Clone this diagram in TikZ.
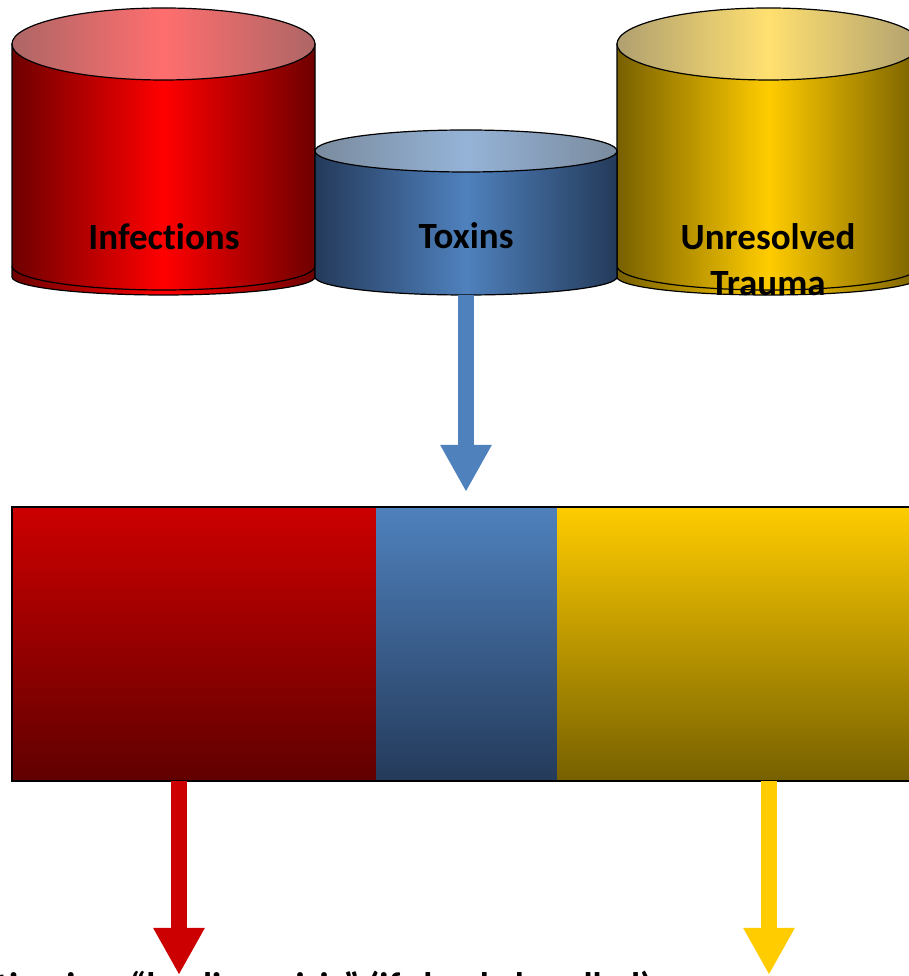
\documentclass[tikz,border=0pt]{standalone}
\usepackage{fontspec}
\setmainfont{Carlito}[Ligatures={NoCommon,NoRequired,NoContextual}]
\usetikzlibrary{arrows.meta}
\definecolor{redC}{HTML}{FF0000}
\definecolor{redE}{HTML}{6E0000}
\definecolor{redTC}{HTML}{FF6E6E}
\definecolor{redTE}{HTML}{AE6666}
\definecolor{bluC}{HTML}{4F81BD}
\definecolor{bluE}{HTML}{243A5A}
\definecolor{bluTC}{HTML}{95B3D7}
\definecolor{bluTE}{HTML}{7A8B9E}
\definecolor{yelC}{HTML}{FFCC00}
\definecolor{yelE}{HTML}{786000}
\definecolor{yelTC}{HTML}{FFE070}
\definecolor{yelTE}{HTML}{B0A070}
\definecolor{redA}{HTML}{CC0000}
\definecolor{redB}{HTML}{600000}
\definecolor{bluB}{HTML}{243A5A}
\definecolor{yelB}{HTML}{766000}
\tikzset{
  lbl/.style={font=\fontsize{37}{46}\selectfont\bfseries, anchor=base, align=center, inner sep=0pt},
  part/.style={anchor=north west, minimum height=274pt, inner sep=0pt, outer sep=0pt},
  fatarrow/.style={line width=16pt, -{Triangle[width=48pt,length=47pt]}},
  rim/.style={draw=black, line width=1.2pt}
}
\begin{document}
\begin{tikzpicture}[x=1pt,y=1pt]
\useasboundingbox (0,0) rectangle (909,976);
\clip (0,0) rectangle (909,976);
% red cylinder
\path[rim, left color=redE, right color=redE, middle color=redC]
  (12,932) -- (12,699) arc[start angle=180,end angle=360,x radius=151.5,y radius=18] -- (315,932) -- cycle;
\draw[rim] (12,710) arc[start angle=180,end angle=360,x radius=151.5,y radius=24];
\path[rim, left color=redTE, right color=redTE, middle color=redTC]
  (163.5,932) ellipse[x radius=151.5, y radius=36];
% yellow cylinder
\path[rim, left color=yelE, right color=yelE, middle color=yelC]
  (617,932) -- (617,699) arc[start angle=180,end angle=360,x radius=151.5,y radius=18] -- (920,932) -- cycle;
\draw[rim] (617,710) arc[start angle=180,end angle=360,x radius=151.5,y radius=24];
\path[rim, left color=yelTE, right color=yelTE, middle color=yelTC]
  (768.5,932) ellipse[x radius=151.5, y radius=36];
% toxins cylinder
\path[rim, left color=bluE, right color=bluE, middle color=bluC]
  (315,825) -- (315,699) arc[start angle=180,end angle=360,x radius=151,y radius=18] -- (617,825) -- cycle;
\path[rim, left color=bluTE, right color=bluTE, middle color=bluTC]
  (466,825) ellipse[x radius=151, y radius=21];
\coordinate (toxbot) at (466,681);
% labels
\node[lbl] (inf) at (164,726) {Infections};
\node[lbl] (tox) at (466,727) {Toxins};
\node[lbl] (unr) at (768,726) {Unresolved};
\node[lbl] (tra) at (768,680) {Trauma};
% bar
\node[part, minimum width=364pt, top color=redA, bottom color=redB] (pred) at (12,469) {};
\node[part, minimum width=181pt, top color=bluC, bottom color=bluB] (pblue) at (376,469) {};
\node[part, minimum width=360pt, top color=yelC, bottom color=yelB] (pyel) at (557,469) {};
\draw[black, line width=2pt] (pred.north west) rectangle (pyel.south east);
% arrows
\draw[fatarrow, bluC, shorten >=15pt] (toxbot) -- (toxbot |- pblue.north);
\coordinate (rtip) at (179,1);
\coordinate (ytip) at (769,1);
\draw[fatarrow, redA] (rtip |- pred.south) -- (rtip);
\draw[fatarrow, yelC] (ytip |- pyel.south) -- (ytip);
% cut-off bottom line
\node[font=\fontsize{37}{44}\selectfont\bfseries, anchor=base west, inner sep=0pt] (bottomtxt) at (-4,-22) {tion in a “healing crisis” (if slowly handled)};
\end{tikzpicture}
\end{document}
